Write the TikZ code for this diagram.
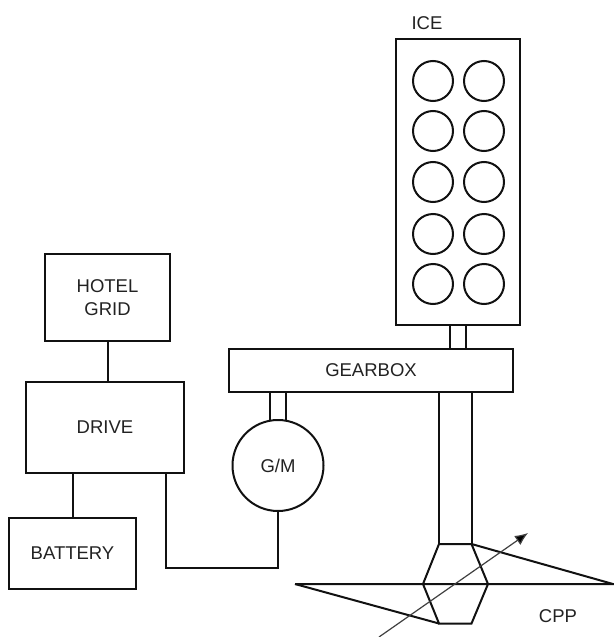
\documentclass[tikz,border=0pt]{standalone}
\usepackage{fontspec}
\setmainfont{Liberation Sans}
\usetikzlibrary{arrows.meta,calc}
\definecolor{ink}{HTML}{111111}
\definecolor{txt}{HTML}{222222}
\tikzset{
  x=1pt,y=-1pt,
  line/.style={draw=ink,line width=2pt},
  label font/.style={font=\fontsize{18.5}{23}\selectfont},
  blockbox/.style={line,inner sep=0pt,outer sep=0pt,minimum width=#1,text=txt,align=center,label font},
  cyl/.style={line,circle,inner sep=0pt,outer sep=0pt,minimum size=40pt},
  lab/.style={text=txt,inner sep=0pt,label font},
  blade/.style={line,line join=miter},
  pitch/.style={draw=black!75,line width=1.2pt,-{Latex[length=13pt,width=11pt,fill=black]}}
}
\begin{document}
\begin{tikzpicture}
\useasboundingbox (0,0) rectangle (613,637);
% blocks
\node[blockbox=125pt,minimum height=87pt] (hotel) at (107.5,297.5) {HOTEL\\GRID};
\node[blockbox=158pt,minimum height=91pt] (drive) at (105,427.5) {DRIVE};
\node[blockbox=127pt,minimum height=71pt] (battery) at (72.5,553.5) {BATTERY};
\node[blockbox=284pt,minimum height=43pt] (gearbox) at (371,370.5) {GEARBOX};
\node[blockbox=124pt,minimum height=286pt] (ice) at (458,182) {};
\node[line,circle,inner sep=0pt,outer sep=0pt,minimum size=91pt,text=txt,label font] (gm) at (278,465.5) {G/M};
\node[lab] (icelabel) at (427,23) {ICE};
\node[lab] (cpplabel) at (558,616) {CPP};
% cylinders
\node[cyl] (c1) at (433,81) {};
\node[cyl] (c2) at (484,81) {};
\node[cyl] (c3) at (433,131) {};
\node[cyl] (c4) at (484,131) {};
\node[cyl] (c5) at (433,182) {};
\node[cyl] (c6) at (484,182) {};
\node[cyl] (c7) at (433,234) {};
\node[cyl] (c8) at (484,234) {};
\node[cyl] (c9) at (433,284) {};
\node[cyl] (c10) at (484,284) {};
% guide coordinates
\coordinate (iceL) at (449.5,337);
\coordinate (iceR) at (466,337);
\coordinate (gmL) at (269.5,405);
\coordinate (gmR) at (286,405);
\coordinate (batX) at (73,495);
\coordinate (wire) at (166,568);
% hub coordinates
\coordinate (h1) at (439,544);
\coordinate (h2) at (471.5,544);
\coordinate (h3) at (488,584);
\coordinate (h4) at (471.5,623.5);
\coordinate (h5) at (439,623.5);
\coordinate (h6) at (423,584);
\coordinate (tipL) at (295,584);
\coordinate (tipR) at (613,584);
\coordinate (arrS) at (379,637);
\coordinate (arrE) at (528,533);
% connectors
\draw[line] (ice.south -| iceL) -- (gearbox.north -| iceL);
\draw[line] (ice.south -| iceR) -- (gearbox.north -| iceR);
\draw[line] (gearbox.south -| gmL) -- (gmL |- gm.north);
\draw[line] (gearbox.south -| gmR) -- (gmR |- gm.north);
\draw[line] (hotel.south) -- (hotel.south |- drive.north);
\draw[line] (drive.south -| batX) -- (battery.north -| batX);
\draw[line] (drive.south -| wire) -- (wire) -- (gm.south |- wire) -- (gm.south);
\draw[line] (gearbox.south -| h1) -- (h1);
\draw[line] (gearbox.south -| h2) -- (h2);
% propeller
\draw[blade] (h1) -- (h2) -- (h3) -- (h4) -- (h5) -- (h6) -- cycle;
\draw[blade] (tipL) -- (tipR) -- (h2);
\draw[blade] (tipL) -- (h5);
\draw[pitch] (arrS) -- (arrE);
\end{tikzpicture}
\end{document}
